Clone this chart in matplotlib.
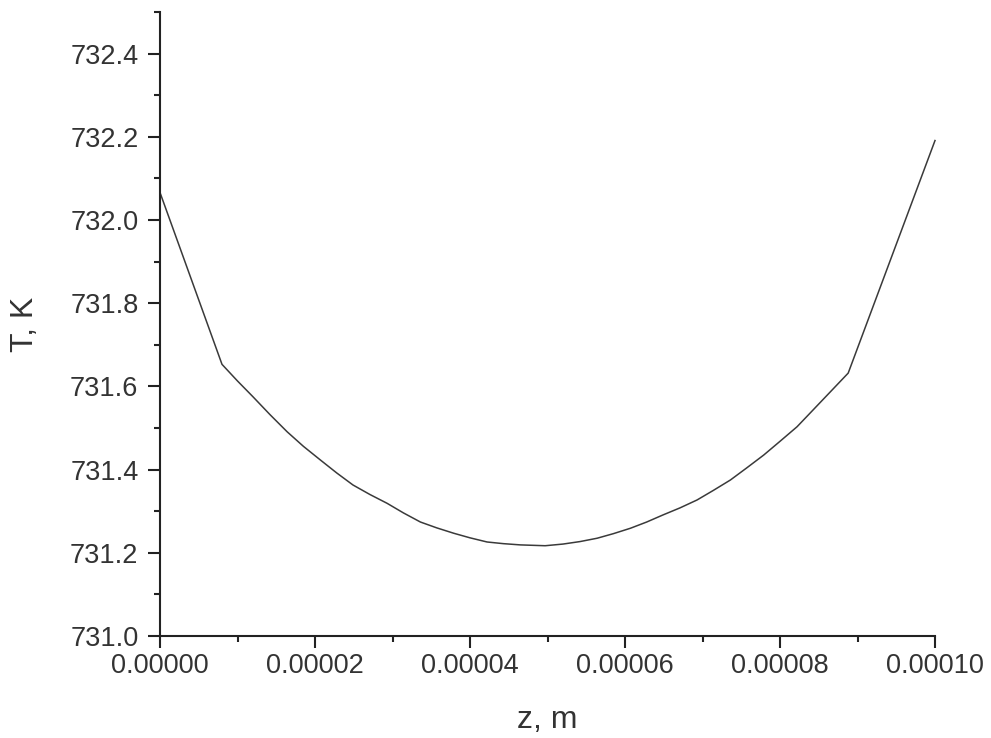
import numpy as np
import matplotlib

matplotlib.use('Agg')
import matplotlib.pyplot as plt
from matplotlib.ticker import MultipleLocator, FormatStrFormatter

plt.rcParams['font.family'] = ['Liberation Sans', 'DejaVu Sans']

# temperature profile
z = [0.0, 0.80e-5, 1.00e-5, 1.20e-5, 1.42e-5, 1.64e-5, 1.85e-5, 2.07e-5,
     2.28e-5, 2.49e-5, 2.71e-5, 2.93e-5, 3.14e-5, 3.36e-5, 3.57e-5, 3.79e-5,
     4.00e-5, 4.22e-5, 4.43e-5, 4.65e-5, 4.97e-5, 5.20e-5, 5.42e-5, 5.64e-5,
     5.85e-5, 6.07e-5, 6.28e-5, 6.49e-5, 6.71e-5, 6.93e-5, 7.14e-5, 7.36e-5,
     7.57e-5, 7.79e-5, 8.00e-5, 8.22e-5, 8.43e-5, 8.65e-5, 8.88e-5, 1.0e-4]
T = [732.066, 731.653, 731.613, 731.575, 731.532, 731.491, 731.456, 731.423,
     731.392, 731.363, 731.340, 731.319, 731.296, 731.274, 731.260, 731.247,
     731.236, 731.226, 731.222, 731.219, 731.217, 731.221, 731.227, 731.235,
     731.246, 731.259, 731.274, 731.291, 731.308, 731.327, 731.350, 731.375,
     731.404, 731.435, 731.468, 731.503, 731.544, 731.587, 731.632, 732.191]

fig = plt.figure(figsize=(9.91, 7.38), dpi=100)
ax = fig.add_axes([160 / 991, 1 - 636 / 738, 775 / 991, 624 / 738])

ax.plot(z, T, color='#3a3a3a', linewidth=1.1, clip_on=False)

ax.set_xlim(0, 1e-4)
ax.set_ylim(731.0, 732.5)
ax.xaxis.set_major_locator(MultipleLocator(2e-5))
ax.xaxis.set_minor_locator(MultipleLocator(1e-5))
ax.yaxis.set_major_locator(MultipleLocator(0.2))
ax.yaxis.set_minor_locator(MultipleLocator(0.1))
ax.xaxis.set_major_formatter(FormatStrFormatter('%.5f'))
ax.yaxis.set_major_formatter(FormatStrFormatter('%.1f'))

for s in ['top', 'right']:
    ax.spines[s].set_visible(False)
for s in ['left', 'bottom']:
    ax.spines[s].set_linewidth(1.5)
    ax.spines[s].set_color('#222222')

ax.tick_params(which='major', length=8.5, width=1.5, color='#222222',
               labelsize=19.5, labelcolor='#333333')
ax.tick_params(which='minor', length=4.5, width=1.5, color='#222222')
ax.tick_params(axis='y', which='major', pad=7)
ax.tick_params(axis='x', which='major', pad=4)

ax.set_xlabel('z, m', fontsize=23, color='#333333')
ax.set_ylabel('T, K', fontsize=23, color='#333333')
ax.xaxis.set_label_coords(0.5, -0.111)
ax.yaxis.set_label_coords(-0.155, 0.5)

fig.savefig('out.png', dpi=100)
